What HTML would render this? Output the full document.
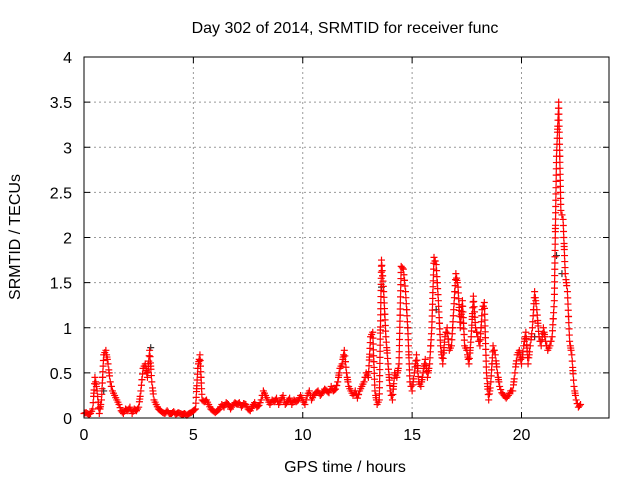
<!DOCTYPE html>
<html><head><meta charset="utf-8"><style>
body{margin:0;background:#fff;}
svg text{font-family:"Liberation Sans",sans-serif;font-size:16px;fill:#000;}
</style></head><body>
<svg id="chart" width="640" height="480" xmlns="http://www.w3.org/2000/svg">
<rect width="640" height="480" fill="#fff"/>
<text x="345" y="33" text-anchor="middle">Day 302 of 2014, SRMTID for receiver func</text>
<text x="345" y="472" text-anchor="middle">GPS time / hours</text>
<text transform="translate(20,237) rotate(-90)" text-anchor="middle">SRMTID / TECUs</text>
<g id="grid"></g><g id="ticks"></g><g id="marks"></g>
<rect x="84" y="57" width="525" height="361" fill="none" stroke="#000" stroke-width="1"/>
</svg>
<script>
const xTicks=[0,5,10,15,20];
const yTicks=[0,0.5,1,1.5,2,2.5,3,3.5,4];
const yTickLabels=["0","0.5","1","1.5","2","2.5","3","3.5","4"];
const tStart=0, tStep=0.1;
const redValues=[
0.05,0.06,0.04,0.05,0.1,0.45,0.3,0.05,0.2,0.7,
0.75,0.6,0.4,0.3,0.25,0.2,0.15,0.08,0.05,0.1,
0.08,0.12,0.05,0.1,0.08,0.12,0.3,0.55,0.6,0.45,
0.75,0.4,0.2,0.15,0.1,0.08,0.06,0.05,0.08,0.05,
0.05,0.07,0.04,0.06,0.05,0.04,0.05,0.03,0.05,0.06,
0.08,0.1,0.55,0.7,0.2,0.18,0.2,0.15,0.1,0.08,
0.06,0.08,0.1,0.15,0.12,0.17,0.15,0.1,0.14,0.17,
0.15,0.17,0.12,0.16,0.15,0.1,0.08,0.13,0.17,0.12,
0.14,0.2,0.3,0.25,0.2,0.15,0.2,0.18,0.22,0.15,
0.2,0.25,0.15,0.18,0.22,0.15,0.2,0.18,0.2,0.25,
0.2,0.15,0.25,0.3,0.2,0.25,0.28,0.3,0.25,0.28,
0.32,0.3,0.28,0.35,0.3,0.32,0.4,0.55,0.6,0.75,
0.5,0.35,0.3,0.25,0.3,0.22,0.3,0.35,0.4,0.5,
0.45,0.9,0.95,0.3,0.15,0.2,1.75,1.4,0.9,0.6,
0.3,0.2,0.5,0.45,0.6,1.68,1.65,1.4,1.0,0.4,
0.3,0.5,0.7,0.4,0.35,0.5,0.65,0.45,0.6,1.0,
1.78,1.7,1.3,0.8,0.6,0.9,1.0,0.75,0.8,1.2,
1.6,1.45,1.0,1.3,0.8,0.75,0.6,0.9,1.35,1.0,
0.9,0.8,1.2,1.28,0.5,0.2,0.4,0.8,0.7,0.5,
0.35,0.28,0.25,0.22,0.25,0.3,0.3,0.5,0.7,0.75,
0.6,0.8,0.95,0.6,0.8,1.0,1.4,1.2,0.9,0.8,
1.0,0.85,0.75,0.8,0.9,1.3,2.9,3.5,2.3,2.2,
1.6,1.4,0.85,0.7,0.35,0.2,0.12,0.15];
const blackTimes=[0.9,3.05,13.6,14.8,21.6,21.85,16.1,20.6];
const blackValues=[0.3,0.78,1.45,1.0,1.8,1.6,1.2,0.9];

const X0=84,X1=609,Y0=418,Y1=57,XMAX=24,YMAX=4;
const xs=t=>X0+(t/XMAX)*(X1-X0);
const ys=v=>Y0-(v/YMAX)*(Y0-Y1);
const NS="http://www.w3.org/2000/svg";
function mk(tag,attrs,parent){const e=document.createElementNS(NS,tag);for(const k in attrs)e.setAttribute(k,attrs[k]);parent.appendChild(e);return e;}
const grid=document.getElementById('grid'),ticks=document.getElementById('ticks'),marks=document.getElementById('marks');
xTicks.forEach((t,i)=>{const x=xs(t);
 if(t>0){const g=mk('line',{x1:x,x2:x,y1:Y1,y2:Y0,stroke:'#999','stroke-dasharray':'2,3'},grid);
 }
 mk('line',{x1:x,x2:x,y1:Y0,y2:Y0-6,stroke:'#000'},ticks);
 mk('line',{x1:x,x2:x,y1:Y1,y2:Y1+6,stroke:'#000'},ticks);
 const tx=mk('text',{x:x,y:Y0+22,'text-anchor':'middle'},ticks);tx.textContent=String(t);
 
});
yTicks.forEach((v,i)=>{const y=ys(v);
 if(v>0&&v<YMAX){const g=mk('line',{x1:X0,x2:X1,y1:y,y2:y,stroke:'#999','stroke-dasharray':'2,3'},grid);
 }
 mk('line',{x1:X0,x2:X0+6,y1:y,y2:y,stroke:'#000'},ticks);
 mk('line',{x1:X1,x2:X1-6,y1:y,y2:y,stroke:'#000'},ticks);
 const tx=mk('text',{x:X0-12,y:y+6,'text-anchor':'end'},ticks);tx.textContent=yTickLabels[i];
 
});
function plus(x,y,color,name){
 const p=mk('path',{d:`M${x-3.5} ${y}H${x+3.5}M${x} ${y-3.5}V${y+3.5}`,stroke:color,'stroke-width':1.2,fill:'none'},marks);
 
 
}
blackTimes.forEach((t,i)=>plus(xs(t),ys(blackValues[i]),'#333','black-point'));
redValues.forEach((v,i)=>{
 const t=tStart+i*tStep;
 plus(xs(t),ys(v),'#f00','red-point');
 if(i+1<redValues.length){
  const v2=redValues[i+1];const n=Math.floor(Math.abs(v2-v)/0.07);
  for(let k=1;k<=n;k++){const f=k/(n+1);plus(xs(t+f*tStep),ys(v+(v2-v)*f),'#f00','red-point');}
  plus(xs(t+tStep/2),ys((v+v2)/2),'#f00','red-point');
 }
});
</script>
</body></html>
